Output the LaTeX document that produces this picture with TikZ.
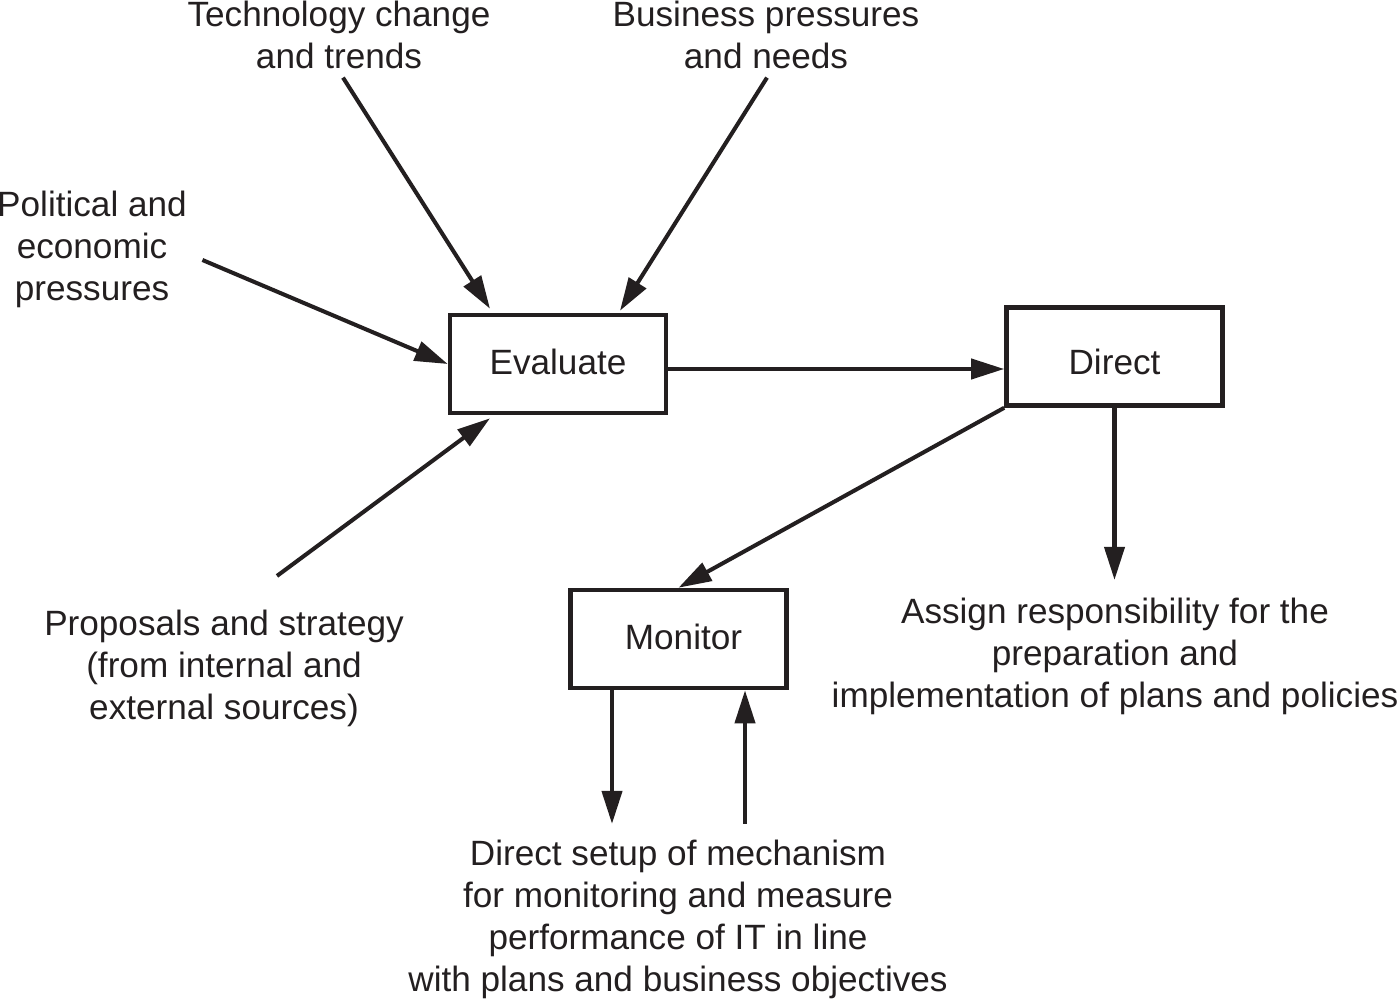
\documentclass[tikz,border=0pt]{standalone}
\usepackage{fontspec}
\setmainfont{Liberation Sans}
\usepackage{xcolor}
\definecolor{InkBlack}{RGB}{35, 31, 32}
\usepackage{tikz}
\usetikzlibrary{
  arrows.meta,
  positioning
}

\begin{document}
\begin{tikzpicture}[
  font=\fontsize{10}{11.95}\selectfont,
  every node/.style={text=InkBlack},
  box/.style={
    draw=InkBlack, line width=1.3pt,
    minimum width=2.16cm, minimum height=0.98cm,
    align=center
  },
  lbl/.style={
    align=center, inner sep=0pt
  },
  arrow/.style={
    -{Triangle[length=3.3mm, width=2mm]},
    line width=1.15pt, InkBlack}
]
\useasboundingbox (0,0) rectangle (13.97,-9.99);

\node[box] (eval) at (5.58,-3.64) {\raisebox{0.02cm}[\height][\depth]{Evaluate}};
\node[box] (direct) at (11.145,-3.565) {\raisebox{-0.05cm}[\height][\depth]{Direct}};
\node[box] (monitor) at (6.785,-6.39) {\hspace{0.1cm}\raisebox{0.02cm}[\height][\depth]{Monitor}};

\node[lbl] (tech) at (3.39,-0.35)
  {Technology change\\and trends};
\node[lbl] (biz) at (7.66,-0.35)
  {Business pressures\\and needs};
\node[lbl] (pol) at (0.92,-2.49)
  {Political and\\economic\\pressures};
\node[lbl] (prop) at (2.24,-6.68)
  {Proposals and strategy\\(from internal and\\external sources)};
\node[lbl] (assign) at (11.15,-6.56)
  {Assign responsibility for the\\preparation and\\implementation of plans and policies};
\node[lbl] (setup) at (6.78,-9.19)
  {Direct setup of mechanism\\for monitoring and measure\\performance of IT in line\\with plans and business objectives};

\draw[arrow] ([xshift=0.04cm, yshift=-0.08cm]tech.south)
  -- ([xshift=-0.68cm, yshift=0.04cm]eval.north);
\draw[arrow] ([xshift=0.01cm, yshift=-0.08cm]biz.south)
  -- ([xshift=0.62cm, yshift=0.02cm]eval.north);
\draw[arrow] ([xshift=0.15cm, yshift=-0.11cm]pol.east)
  -- (eval.west);
\draw[arrow] ([xshift=0.53cm, yshift=0.33cm]prop.north)
  -- ([xshift=-0.68cm, yshift=-0.03cm]eval.south);

\draw[arrow] ([yshift=-0.05cm]eval.east)
  -- ([yshift=-0.05cm]eval.east -| direct.west);
\draw[arrow] (direct.south west) -- (monitor.north);
\draw[arrow] (direct.south)
  -- ([yshift=0.17cm]direct.south |- assign.north);

\draw[arrow] ([xshift=-0.665cm]monitor.south)
  -- ([xshift=-0.665cm, yshift=0.15cm]monitor.south |- setup.north);
\draw[arrow] ([xshift=0.665cm, yshift=0.15cm]monitor.south |- setup.north)
  -- ([xshift=0.665cm]monitor.south);
\end{tikzpicture}
\end{document}
